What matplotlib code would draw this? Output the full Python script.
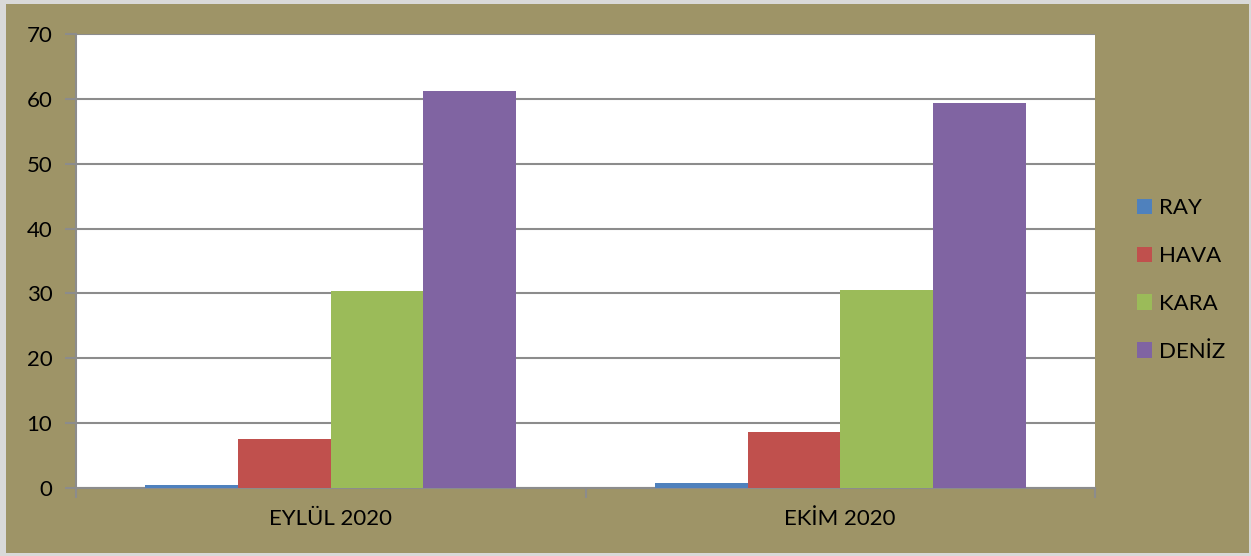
import numpy as np
import matplotlib
matplotlib.use('Agg')
import matplotlib.pyplot as plt
from matplotlib.patches import Rectangle

# values
months = ['EYLÜL 2020', 'EKİM 2020']
modes = ['RAY', 'HAVA', 'KARA', 'DENİZ']
ray = [0.5, 0.7]
hava = [7.5, 8.7]
kara = [30.4, 30.5]
deniz = [61.2, 59.3]
colors = ['#4F81BD', '#C0504D', '#9BBB59', '#8064A2']

plt.rcParams['font.family'] = ['Lato', 'DejaVu Sans']

W, H = 1251, 556
fig = plt.figure(figsize=(W / 100, H / 100), dpi=100)
fig.patch.set_facecolor('#D9D9D9')
olive = '#9E9467'
fig.patches.append(Rectangle((6 / W, 3 / H), (W - 8) / W, (H - 7) / H,
                             transform=fig.transFigure, facecolor=olive,
                             edgecolor='none', zorder=-5))

left, right, top, bottom = 76, 1095, 34, 488
ax = fig.add_axes([left / W, 1 - bottom / H, (right - left) / W, (bottom - top) / H])
ax.set_facecolor('white')

x = np.arange(len(months))
bw = 1 / 5.5
series = [ray, hava, kara, deniz]
for i, (vals, c, lab) in enumerate(zip(series, colors, modes)):
    ax.bar(x + (i - 1.5) * bw, vals, bw, color=c, label=lab, zorder=3, linewidth=0)

ax.set_xlim(-0.5, 1.5)
ax.set_ylim(0, 70)
ax.set_yticks(range(0, 71, 10))
ax.yaxis.grid(True, color='#8C8C8C', linewidth=1.5, zorder=1)
ax.set_axisbelow(True)

for s in ['top', 'right']:
    ax.spines[s].set_visible(False)
ax.spines['left'].set_color('#8C8C8C')
ax.spines['bottom'].set_color('#8C8C8C')
ax.spines['left'].set_linewidth(1.5)
ax.spines['bottom'].set_linewidth(1.5)

ax.set_xticks(x)
ax.set_xticklabels(months)
ax.set_xticks([-0.5, 0.5, 1.5], minor=True)
ax.tick_params(axis='x', which='major', length=0, labelsize=16, pad=15, colors='black')
ax.tick_params(axis='x', which='minor', length=7, width=1.5, color='#8C8C8C')
ax.tick_params(axis='y', length=8, width=1.5, color='#8C8C8C', labelsize=16, pad=9,
               labelcolor='black')

handles, labels = ax.get_legend_handles_labels()
fig.legend(handles, labels, loc='center left', bbox_to_anchor=(1117 / W, 1 - 280 / H),
           frameon=False, fontsize=16, handlelength=0.68, handleheight=0.68,
           handletextpad=0.3, labelspacing=1.25)

fig.savefig('out.png', dpi=100, facecolor=fig.get_facecolor())
